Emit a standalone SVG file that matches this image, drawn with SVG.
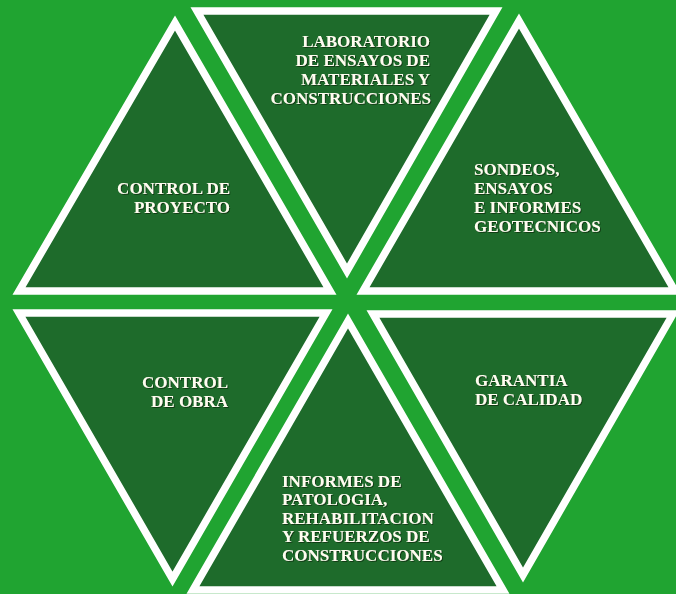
<svg xmlns="http://www.w3.org/2000/svg" width="676" height="594" viewBox="0 0 676 594">
<defs>
<filter id="sh" x="-10%" y="-10%" width="120%" height="130%">
<feDropShadow dx="1" dy="1" stdDeviation="0.4" flood-color="#0a3010" flood-opacity="0.8"/>
</filter>
</defs>
<style>
.tri{fill:#1e6b2b;stroke:#ffffff;stroke-width:7.5;stroke-linejoin:miter;stroke-miterlimit:10}
.lbl{font-family:"Liberation Serif","Times New Roman",serif;font-weight:bold;font-size:17px;fill:#fffdf0;filter:url(#sh)}
.end{text-anchor:end}
</style>
<rect x="0" y="0" width="676" height="594" fill="#20a431"/>
<g id="control-proyecto">
<polygon class="tri" points="175,23 19,291 330,291"/>
<text class="lbl end" x="230" y="194">CONTROL DE</text>
<text class="lbl end" x="230" y="213">PROYECTO</text>
</g>
<g id="laboratorio">
<polygon class="tri" points="197,11 496,11 347,271"/>
<text class="lbl end" x="430" y="47">LABORATORIO</text>
<text class="lbl end" x="430" y="66">DE ENSAYOS DE</text>
<text class="lbl end" x="430" y="85">MATERIALES Y</text>
<text class="lbl end" x="431" y="104">CONSTRUCCIONES</text>
</g>
<g id="sondeos">
<polygon class="tri" points="519,21 363,291 675,291"/>
<text class="lbl" x="474" y="175">SONDEOS,</text>
<text class="lbl" x="474" y="194">ENSAYOS</text>
<text class="lbl" x="474" y="213">E INFORMES</text>
<text class="lbl" x="474" y="232">GEOTECNICOS</text>
</g>
<g id="control-obra">
<polygon class="tri" points="19,313 326,313 172.5,579"/>
<text class="lbl end" x="228" y="388">CONTROL</text>
<text class="lbl end" x="228" y="407">DE OBRA</text>
</g>
<g id="informes">
<polygon class="tri" points="348,321 193,590 503,590"/>
<text class="lbl" x="282" y="487">INFORMES DE</text>
<text class="lbl" x="282" y="505">PATOLOGIA,</text>
<text class="lbl" x="282" y="524">REHABILITACION</text>
<text class="lbl" x="282" y="542">Y REFUERZOS DE</text>
<text class="lbl" x="282" y="561">CONSTRUCCIONES</text>
</g>
<g id="garantia">
<polygon class="tri" points="373,314 673,314 523,575"/>
<text class="lbl" x="475" y="386">GARANTIA</text>
<text class="lbl" x="475" y="405">DE CALIDAD</text>
</g>
<g id="connectors"></g>
</svg>
